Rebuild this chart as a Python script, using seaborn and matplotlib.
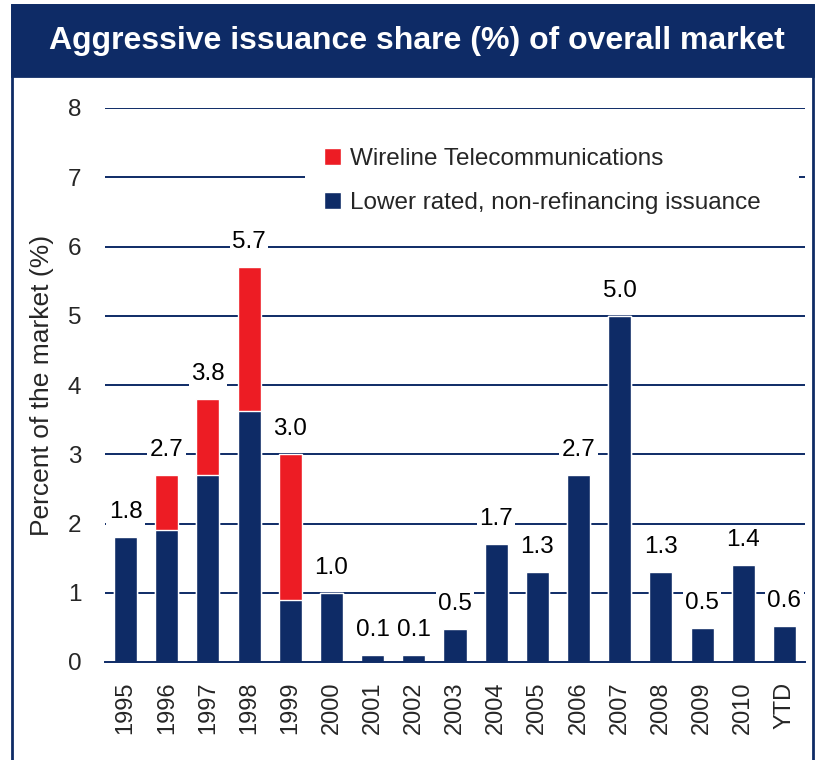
import matplotlib
matplotlib.use("Agg")
import matplotlib.pyplot as plt
from matplotlib.patches import Rectangle, Patch
import pandas as pd
import seaborn as sns

years = ["1995", "1996", "1997", "1998", "1999", "2000", "2001", "2002", "2003",
         "2004", "2005", "2006", "2007", "2008", "2009", "2010", "YTD"]
lower_rated = [1.8, 1.9, 2.7, 3.62, 0.9, 1.0, 0.1, 0.1, 0.47,
               1.7, 1.3, 2.7, 5.0, 1.3, 0.49, 1.4, 0.52]
wireline = [0.0, 0.8, 1.1, 2.08, 2.1, 0.0, 0.0, 0.0, 0.0,
            0.0, 0.0, 0.0, 0.0, 0.0, 0.0, 0.0, 0.0]
labels = ["1.8", "2.7", "3.8", "5.7", "3.0", "1.0", "0.1", "0.1", "0.5",
          "1.7", "1.3", "2.7", "5.0", "1.3", "0.5", "1.4", "0.6"]

NAVY = "#0E2B66"
RED = "#ED1C24"

df = pd.DataFrame({"year": years, "lower": lower_rated, "wire": wireline})
df["total"] = df["lower"] + df["wire"]

sns.set_theme(style="white")
plt.rcParams["font.family"] = ["Liberation Sans", "DejaVu Sans"]

fig = plt.figure(figsize=(8.17, 7.6), dpi=100)
ax = fig.add_axes([105 / 817, 1 - 662 / 760, 700 / 817, 554 / 760])

sns.barplot(data=df, x="year", y="total", color=RED, width=0.56,
            saturation=1, ax=ax, zorder=3)
sns.barplot(data=df, x="year", y="lower", color=NAVY, width=0.56,
            saturation=1, ax=ax, zorder=3)

ax.set_ylim(0, 8)
ax.set_xlim(-0.5, len(years) - 0.5)
ax.set_yticks(range(0, 9))
for y in range(1, 9):
    ax.axhline(y, color=NAVY, lw=1.4, zorder=1)

for spine in ["top", "right", "left"]:
    ax.spines[spine].set_visible(False)
ax.spines["bottom"].set_color(NAVY)
ax.spines["bottom"].set_linewidth(1.4)
ax.spines["bottom"].set_zorder(4)

ax.set_xticks(range(len(years)))
ax.set_xticklabels(years, rotation=90, fontsize=17)
ax.tick_params(axis="x", which="major", length=0, pad=14)
ax.set_xticks([i - 0.5 for i in range(len(years) + 1)], minor=True)
ax.tick_params(axis="x", which="minor", length=8, width=1.4, color=NAVY, direction="out")
ax.tick_params(axis="y", length=0, labelsize=17.5, pad=17)
ax.set_xlabel("")
ax.set_ylabel("Percent of the market (%)", fontsize=19, labelpad=10)

for i, (tot, lab) in enumerate(zip(df["total"], labels)):
    ax.annotate(lab, (i, tot), xytext=(0, 18), textcoords="offset points",
                ha="center", va="center", fontsize=17.5, color="black", zorder=5,
                bbox=dict(boxstyle="square,pad=0.1", fc="white", ec="none"))

# legend box covering the gridlines
ax.add_patch(Rectangle((4.36, 6.4), 12.0, 1.15, facecolor="white",
                       edgecolor="none", zorder=2))
handles = [Patch(facecolor=RED, label="Wireline Telecommunications"),
           Patch(facecolor=NAVY, label="Lower rated, non-refinancing issuance")]
leg = ax.legend(handles=handles, loc="upper left", bbox_to_anchor=(0.313, 0.928),
                frameon=False, fontsize=17.5, handlelength=0.7, handleheight=0.7,
                handletextpad=0.35, labelspacing=0.92, borderaxespad=0, borderpad=0)
leg.set_zorder(6)

# outer frame and title banner
fig.patches.append(Rectangle((12 / 817, -0.01), 801 / 817, 1 - 5 / 760 + 0.01,
                             transform=fig.transFigure, fill=False,
                             edgecolor=NAVY, lw=2))
fig.patches.append(Rectangle((12 / 817, 1 - 76 / 760), 801 / 817, 71 / 760,
                             transform=fig.transFigure, facecolor=NAVY,
                             edgecolor=NAVY, lw=2))
fig.text(417 / 817, 1 - 41 / 760, "Aggressive issuance share (%) of overall market",
         ha="center", va="center", color="white", fontsize=23, fontweight="bold",
         family=["Liberation Sans Narrow", "Liberation Sans", "DejaVu Sans"])

fig.savefig("out.png", dpi=100)
